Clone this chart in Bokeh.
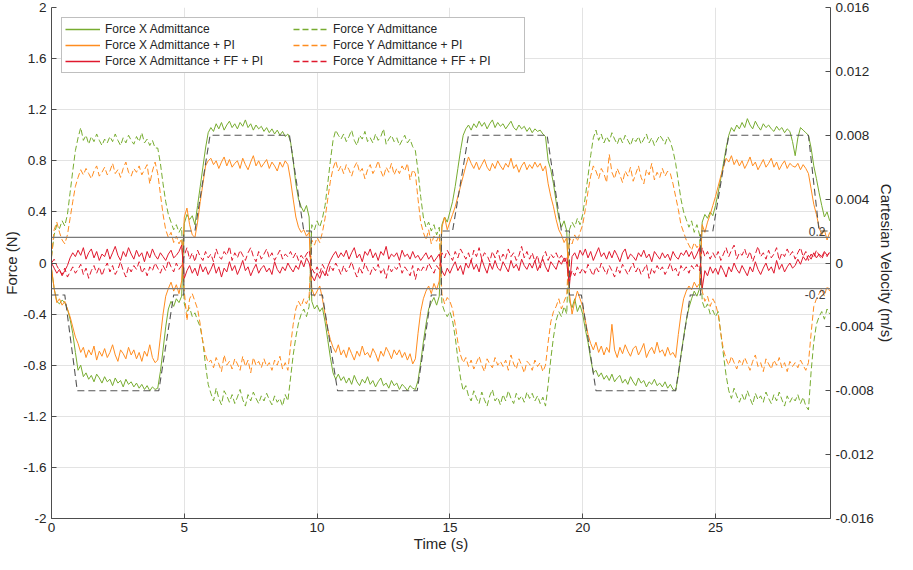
import numpy as np
from bokeh.plotting import figure
from bokeh.models import Range1d, LinearAxis, FixedTicker, Span, Label, Legend, LegendItem
from bokeh.embed import file_html
from bokeh.resources import INLINE

# ---- data (force values in hundredths of N, sampled every 0.1 s) ----
fx_adm = [
    -5, -20, -30, -32, -29, -31, -36, -44, -55, -70,
    -84, -80, -89, -86, -91, -88, -93, -87, -90, -94,
    -89, -93, -91, -96, -90, -94, -92, -97, -91, -95,
    -93, -97, -94, -98, -95, -99, -96, -100, -97, -99,
    -98, -85, -68, -50, -36, -30, -34, -28, -31, -26,
    31, 38, 34, 37, 30, 45, 60, 75, 90, 102,
    106, 103, 109, 105, 110, 104, 108, 111, 106, 109,
    105, 110, 107, 112, 106, 109, 104, 108, 105, 107,
    103, 106, 102, 105, 101, 104, 100, 103, 99, 101,
    95, 80, 62, 50, 44, 40, 45, 36, -30, -36,
    -33, -38, -35, -46, -60, -74, -86, -91, -87, -92,
    -89, -94, -90, -95, -88, -93, -96, -91, -94, -89,
    -95, -92, -97, -93, -90, -96, -94, -98, -92, -96,
    -94, -99, -95, -97, -100, -96, -98, -99, -92, -78,
    -62, -48, -36, -31, -27, -33, -26, 30, 36, 32,
    40, 48, 60, 74, 88, 100, 105, 108, 104, 109,
    106, 111, 107, 110, 105, 109, 112, 106, 110, 107,
    109, 105, 108, 111, 106, 104, 108, 105, 107, 103,
    106, 102, 105, 103, 104, 101, 99, 80, 73, 62,
    48, 35, 28, 33, 25, -30, -35, -28, -38, -33,
    -40, -52, -62, -75, -86, -84, -89, -86, -91, -88,
    -92, -87, -93, -90, -88, -94, -91, -95, -89, -93,
    -96, -90, -94, -92, -97, -93, -95, -91, -96, -94,
    -97, -93, -98, -95, -99, -100, -88, -72, -58, -45,
    -35, -28, -22, -26, -20, 32, 38, 35, 40, 37,
    45, 55, 66, 78, 90, 100, 106, 103, 108, 105,
    110, 106, 113, 108, 105, 111, 107, 104, 109, 106,
    108, 105, 103, 107, 104, 106, 102, 105, 103, 95,
    84, 98, 106, 104, 102, 100, 90, 76, 66, 55,
    45, 36, 40, 33,
]
fy_adm = [
    5, 22, 30, 27, 33, 29, 38, 55, 72, 88,
    98, 106, 96, 100, 93, 99, 95, 101, 96, 92,
    97, 94, 99, 95, 101, 96, 92, 98, 94, 100,
    96, 93, 99, 95, 102, 94, 97, 92, 96, 90,
    90, 78, 62, 48, 38, 32, 26, 30, 24, 28,
    -32, -38, -35, -42, -39, -45, -50, -62, -80, -95,
    -102, -108, -98, -106, -111, -100, -104, -109, -103, -110,
    -105, -99, -107, -112, -103, -108, -101, -106, -110, -104,
    -108, -102, -107, -111, -104, -109, -106, -112, -103, -108,
    -90, -72, -58, -47, -40, -36, -42, -34, 30, 26,
    33, 28, 35, 45, 62, 80, 96, 104, 100, 97,
    101, 95, 99, 104, 96, 92, 100, 97, 103, 95,
    98, 94, 101, 96, 99, 105, 93, 97, 100, 95,
    98, 92, 96, 100, 94, 97, 91, 88, 72, 52,
    36, 28, 32, 25, 30, 22, 28, -32, -38, -42,
    -38, -45, -58, -75, -90, -100, -96, -104, -108, -100,
    -106, -110, -101, -107, -112, -104, -99, -108, -105, -111,
    -103, -108, -100, -106, -110, -102, -107, -104, -109, -101,
    -106, -102, -108, -104, -110, -105, -112, -95, -75, -58,
    -45, -38, -42, -34, -40, 26, 32, 28, 35, 30,
    38, 52, 68, 84, 98, 104, 96, 101, 94, 99,
    95, 102, 97, 93, 99, 94, 100, 96, 92, 98,
    95, 99, 93, 97, 101, 94, 98, 92, 96, 100,
    97, 93, 99, 95, 88, 78, 64, 50, 40, 34,
    28, 33, 24, 30, 22, -30, -36, -32, -40, -37,
    -42, -38, -55, -72, -88, -100, -106, -98, -104, -109,
    -103, -108, -100, -106, -111, -102, -107, -104, -109, -101,
    -106, -110, -103, -108, -101, -107, -112, -104, -109, -105,
    -108, -103, -110, -105, -112, -115, -85, -62, -48, -42,
    -38, -44, -36, -40,
]
fx_pi = [
    -4, -20, -31, -28, -33, -30, -36, -42, -50, -58,
    -63, -70, -66, -74, -68, -72, -65, -76, -69, -73,
    -67, -74, -70, -64, -72, -77, -68, -71, -75, -66,
    -72, -68, -75, -70, -77, -69, -73, -64, -74, -78,
    -76, -58, -40, -26, -20, -15, -22, -17, -24, -14,
    36, 43, 30, 22, 20, 32, 48, 62, 76, 80,
    82, 77, 80, 74, 79, 83, 76, 81, 75, 78,
    80, 74, 82, 77, 73, 79, 84, 76, 80, 75,
    78, 81, 74, 79, 76, 72, 79, 75, 80, 77,
    65, 50, 36, 28, 24, 26, 21, 24, -20, -26,
    -22, -18, -28, -40, -52, -60, -66, -70, -64, -72,
    -68, -74, -66, -71, -76, -69, -73, -65, -72, -70,
    -74, -67, -71, -77, -69, -73, -66, -70, -75, -68,
    -72, -68, -74, -70, -76, -71, -79, -75, -55, -38,
    -28, -22, -18, -24, -16, -21, -14, 28, 36, 26,
    32, 38, 44, 52, 60, 68, 76, 83, 78, 74,
    79, 73, 77, 81, 75, 72, 78, 74, 80, 76,
    73, 78, 75, 82, 74, 77, 71, 76, 79, 73,
    77, 74, 79, 75, 78, 72, 76, 62, 52, 44,
    34, 26, 22, 16, 20, -24, -40, -30, -22, -28,
    -34, -45, -56, -63, -68, -62, -70, -65, -72, -66,
    -70, -48, -68, -74, -66, -71, -64, -69, -73, -67,
    -65, -72, -68, -63, -74, -69, -66, -71, -62, -70,
    -68, -73, -66, -72, -70, -74, -56, -40, -28, -22,
    -18, -21, -15, -19, -16, 30, 24, 32, 38, 45,
    52, 60, 68, 75, 82, 79, 84, 77, 81, 76,
    80, 74, 78, 83, 76, 79, 73, 77, 81, 75,
    78, 82, 75, 79, 73, 77, 80, 74, 78, 76,
    75, 78, 73, 77, 74, 70, 58, 46, 38, 28,
    22, 26, 18, 24,
]
fy_pi = [
    4, 26, 32, 24, 18, 15, 22, 35, 48, 60,
    67, 73, 69, 74, 70, 66, 72, 76, 68, 71,
    75, 69, 72, 78, 70, 73, 67, 74, 79, 71,
    68, 74, 71, 76, 69, 73, 77, 62, 72, 79,
    70, 54, 38, 26, 20, 24, 16, 21, 15, 19,
    -22, -45, -28, -24, -30, -36, -48, -62, -72, -78,
    -76, -82, -74, -79, -85, -72, -80, -77, -83, -75,
    -79, -84, -73, -81, -76, -86, -74, -80, -77, -82,
    -75, -81, -78, -84, -76, -80, -73, -83, -78, -84,
    -65, -48, -36, -30, -34, -28, -32, -26, 18, 14,
    20, 16, 24, 35, 50, 64, 74, 80, 72, 76,
    70, 77, 73, 68, 75, 79, 71, 74, 66, 73,
    77, 70, 74, 80, 72, 67, 75, 71, 78, 69,
    74, 70, 76, 72, 78, 65, 73, 70, 50, 32,
    24, 18, 26, 15, 21, 17, 22, -24, -32, -27,
    -30, -36, -48, -62, -72, -78, -74, -81, -76, -83,
    -78, -73, -80, -85, -75, -79, -82, -74, -80, -77,
    -81, -76, -84, -72, -79, -83, -75, -80, -86, -77,
    -79, -84, -76, -81, -78, -85, -80, -62, -46, -38,
    -34, -28, -36, -30, -25, 20, 15, 22, 17, 24,
    30, 42, 56, 68, 76, 72, 66, 74, 70, 63,
    85, 71, 66, 74, 69, 63, 72, 68, 75, 64,
    70, 76, 67, 62, 73, 69, 78, 65, 71, 67,
    74, 68, 72, 70, 62, 52, 42, 30, 24, 18,
    14, 10, 16, 12, 15, -22, -30, -26, -34, -28,
    -32, -40, -55, -68, -75, -80, -73, -78, -83, -76,
    -80, -74, -79, -84, -77, -72, -81, -78, -85, -75,
    -79, -83, -76, -80, -74, -82, -78, -85, -77, -81,
    -78, -82, -76, -80, -84, -78, -55, -34, -28, -24,
    -20, -26, -18, -22,
]
fx_ffpi = [
    0, -4, -8, -5, -10, -6, -2, 4, 8, 5,
    10, 6, 12, 3, 8, 11, 4, 9, 2, 7,
    5, 11, 3, 8, 13, 6, 2, 9, 5, 12,
    7, 3, 10, 5, 8, 1, 9, 4, 11, 6,
    3, 8, 5, 2, 7, 10, 4, 6, 9, 14,
    -12, -6, -2, -8, -4, -10, -1, -7, -3, -9,
    -5, 0, -8, -3, -11, -4, -7, 1, -6, -2,
    -9, -4, 2, -6, -3, -10, -5, -1, -8, -4,
    -2, -7, -4, -9, 1, -5, -8, -3, -6, 0,
    -4, -7, -2, -5, 2, -3, 4, 0, -10, -14,
    -8, -12, -6, -10, -3, 2, 6, 9, 4, 8,
    5, 10, 3, 8, 12, 4, 7, 1, 9, 6,
    11, 4, 8, 2, 9, 6, 13, 3, 7, 5,
    8, 2, 10, 5, 7, 3, 9, 4, 6, 2,
    5, 8, 3, 6, 1, 4, 7, -6, -10, -4,
    -8, -3, 1, -6, -2, -9, 0, -4, 2, -5,
    -1, -7, 3, -3, -8, 0, -5, 2, -4, -6,
    1, -3, -7, 2, -4, -1, -6, 3, -2, -5,
    0, -4, 2, -6, -1, 3, -3, -7, 1, -2,
    -5, 2, -1, 4, 0, -18, 5, 8, 3, 10,
    6, 11, 4, 9, 2, 7, 12, 5, 8, 3,
    9, 4, 10, 6, 1, 8, 11, 3, 7, 5,
    2, 8, 5, 10, 4, 7, 1, 9, 6, 3,
    8, 4, 7, 2, 9, 5, 3, 8, 6, 10,
    5, 9, 3, 7, 12, -20, -6, -10, -3, -8,
    -4, -9, -2, -6, -11, -3, -7, 0, -5, -8,
    -2, -6, -10, -3, -7, 1, -5, -9, -4, 0,
    -6, -3, -8, 2, -5, -1, -7, -3, 0, -4,
    -2, 3, -1, 5, 2, 6, 3, 8, 4, 7,
    5, 9, 6, 8,
]
fy_ffpi = [
    0, 3, -2, -6, -9, -4, -11, -7, -3, -8,
    -5, -1, -9, -4, -12, -6, -2, -8, -3, -10,
    -4, 0, -7, -2, -9, -5, 1, -6, -11, -3,
    -7, -2, -5, 1, -8, -4, -10, -3, -6, 0,
    -4, -8, -2, -6, 2, -3, -7, 0, -5, -2,
    6, 12, 3, 8, 1, 10, 5, 2, 9, 4,
    7, 1, 11, 5, 3, 9, 6, 13, 2, 8,
    4, 10, 6, 2, 8, 12, 5, 1, 9, 3,
    7, 11, 4, 8, 2, 6, 10, 3, 7, 5,
    9, 4, 8, 2, 6, 3, 7, 10, -4, -8,
    -3, -8, -1, -5, -10, -2, -6, 0, -4, -9,
    -2, -7, -4, 1, -6, -11, -3, -8, 0, -5,
    -9, -3, -6, -1, -8, -4, -12, -2, -7, -3,
    -5, 0, -8, -3, -6, -10, -2, -13, -4, -7,
    -3, -6, 0, -4, -8, -2, -5, 8, 4, 10,
    6, 2, 9, 4, 11, 7, 3, 8, 1, 10,
    5, 12, 3, 8, 6, 1, 9, 4, 10, 2,
    7, 3, 11, 5, 8, 2, 6, 13, 4, 9,
    3, 8, 1, 6, -4, 5, 9, 2, 7, 4,
    8, 3, 6, 1, 5, -14, -6, -10, -3, -8,
    -4, -8, -1, -6, -10, -3, -7, 0, -5, -9,
    -2, -6, -11, -3, -8, -1, -5, -9, -4, 0,
    -7, -3, -9, -5, -1, -12, -4, -8, -2, -6,
    -3, -9, -5, 0, -7, -4, -10, -2, -6, -3,
    -8, -2, -5, -1, -6, 12, 5, 9, 3, 8,
    4, 9, 2, 7, 12, 5, 10, 14, 3, 8,
    6, 11, 4, 9, 1, 7, 13, 5, 8, 3,
    10, 4, 7, 12, 2, 8, 5, 11, 6, 9,
    3, 8, 12, 5, 9, 2, 7, 4, 10, 6,
    3, 8, 5, 9,
]

# reference Cartesian velocity (m/s) breakpoints
ref_t = [0, 0.5, 0.97, 4.04, 4.6, 4.98, 4.98, 5.4, 5.97, 8.96, 9.5, 9.78,
         9.78, 10.2, 10.77, 13.77, 14.3, 14.68, 14.68, 15.1, 15.7, 18.66, 19.2, 19.5,
         19.5, 19.95, 20.5, 23.5, 24.05, 24.44, 24.44, 24.9, 25.5, 28.5, 28.9, 29.3]
ref_v = [-0.002, -0.002, -0.008, -0.008, -0.002, -0.002, 0.002, 0.002, 0.008, 0.008, 0.002, 0.002,
         -0.002, -0.002, -0.008, -0.008, -0.002, -0.002, 0.002, 0.002, 0.008, 0.008, 0.002, 0.002,
         -0.002, -0.002, -0.008, -0.008, -0.002, -0.002, 0.002, 0.002, 0.008, 0.008, 0.002, 0.002]

thresholds = [0.2, -0.2]
threshold_labels = ["0.2", "-0.2"]

x_ticks = [0, 5, 10, 15, 20, 25]
y_ticks = [-2, -1.6, -1.2, -0.8, -0.4, 0, 0.4, 0.8, 1.2, 1.6, 2]
y_tick_labels = ["-2", "-1.6", "-1.2", "-0.8", "-0.4", "0", "0.4", "0.8", "1.2", "1.6", "2"]
v_ticks = [-0.016, -0.012, -0.008, -0.004, 0, 0.004, 0.008, 0.012, 0.016]
v_tick_labels = ["-0.016", "-0.012", "-0.008", "-0.004", "0", "0.004", "0.008", "0.012", "0.016"]

series_names = ["Force X Admittance", "Force Y Admittance",
                "Force X Admittance + PI", "Force Y Admittance + PI",
                "Force X Admittance + FF + PI", "Force Y Admittance + FF + PI"]

# ---- figure ----
t = np.round(np.arange(len(fx_adm)) * 0.1, 1)
FONT = "Liberation Sans"
TXT = "#262626"

p = figure(width=897, height=554, output_backend="svg", toolbar_location=None,
           x_range=Range1d(0, 29.33), y_range=Range1d(-2, 2),
           min_border_left=44, min_border_right=58, min_border_top=7, min_border_bottom=30)
p.extra_y_ranges = {"vel": Range1d(-0.016, 0.016)}
p.outline_line_color = None
p.background_fill_color = "white"


def style_axis(ax):
    ax.axis_line_color = "#4d4d4d"
    ax.major_tick_line_color = "#4d4d4d"
    ax.major_tick_in = 5
    ax.major_tick_out = 0
    ax.minor_tick_line_color = None
    ax.major_label_text_font = FONT
    ax.major_label_text_font_size = "13.5px"
    ax.major_label_text_color = TXT
    ax.axis_label_text_font = FONT
    ax.axis_label_text_font_size = "15px"
    ax.axis_label_text_font_style = "normal"
    ax.axis_label_text_color = TXT


p.xaxis.ticker = FixedTicker(ticks=x_ticks)
p.xaxis.axis_label = "Time (s)"
p.xaxis.axis_label_standoff = 0
p.xaxis.major_label_standoff = 4
style_axis(p.xaxis[0])

p.yaxis.ticker = FixedTicker(ticks=y_ticks)
p.yaxis.major_label_overrides = dict(zip(y_ticks, y_tick_labels))
p.yaxis.axis_label = "Force (N)"
p.yaxis.axis_label_standoff = 0
p.yaxis.major_label_standoff = 5
style_axis(p.yaxis[0])

ax_r = LinearAxis(y_range_name="vel", ticker=FixedTicker(ticks=v_ticks),
                  axis_label="Cartesian Velocity (m/s)")
ax_r.major_label_overrides = dict(zip(v_ticks, v_tick_labels))
ax_r.major_label_standoff = 5
ax_r.axis_label_standoff = 1
style_axis(ax_r)
p.add_layout(ax_r, "right")

p.xgrid.ticker = FixedTicker(ticks=x_ticks)
p.ygrid.ticker = FixedTicker(ticks=y_ticks)
for g in (p.xgrid[0], p.ygrid[0]):
    g.grid_line_color = "#e3e3e3"
    g.grid_line_width = 1

GREEN = "#77AC30"
ORANGE = "#FF8C1F"
RED = "#E0182D"

data = [fx_adm, fy_adm, fx_pi, fy_pi, fx_ffpi, fy_ffpi]
colors = [GREEN, GREEN, ORANGE, ORANGE, RED, RED]
dashes = ["solid", "6 3", "solid", "6 3", "solid", "6 3"]
for vals, c, d in zip(data, colors, dashes):
    p.line(t, np.array(vals) / 100.0, line_color=c, line_width=1, line_dash=d)

for v, lab in zip(thresholds, threshold_labels):
    p.add_layout(Span(location=v, dimension="width", line_color="#7a7a7a", line_width=1.2))
    p.add_layout(Label(x=29.33, y=v, text=lab, text_align="right",
                       text_baseline="bottom" if v > 0 else "top",
                       x_offset=-5, y_offset=1 if v > 0 else -1,
                       text_font=FONT, text_font_size="12px", text_color="#404040"))

p.line(ref_t, ref_v, y_range_name="vel", line_color="#555555", line_width=1.1, line_dash="7 4")

# legend proxies (a single NaN point: nothing drawn in the plot, only the legend sample)
proxies = []
for c, d in zip(colors, dashes):
    proxies.append(p.line(x=[np.nan], y=[np.nan], line_color=c, line_width=1.3, line_dash=d))

items = [LegendItem(label=series_names[i], renderers=[proxies[i]]) for i in [0, 2, 4, 1, 3, 5]]
legend = Legend(items=items, location="top_left", nrows=3,
                glyph_width=35, glyph_height=16, label_height=16, label_width=188,
                label_standoff=5, spacing=0, padding=3, margin=10,
                label_text_font=FONT, label_text_font_size="12px", label_text_color=TXT,
                border_line_color="#808080", border_line_width=1,
                background_fill_color="white", background_fill_alpha=1.0)
p.add_layout(legend, "center")

open("out.html", "w").write(file_html(p, INLINE))
